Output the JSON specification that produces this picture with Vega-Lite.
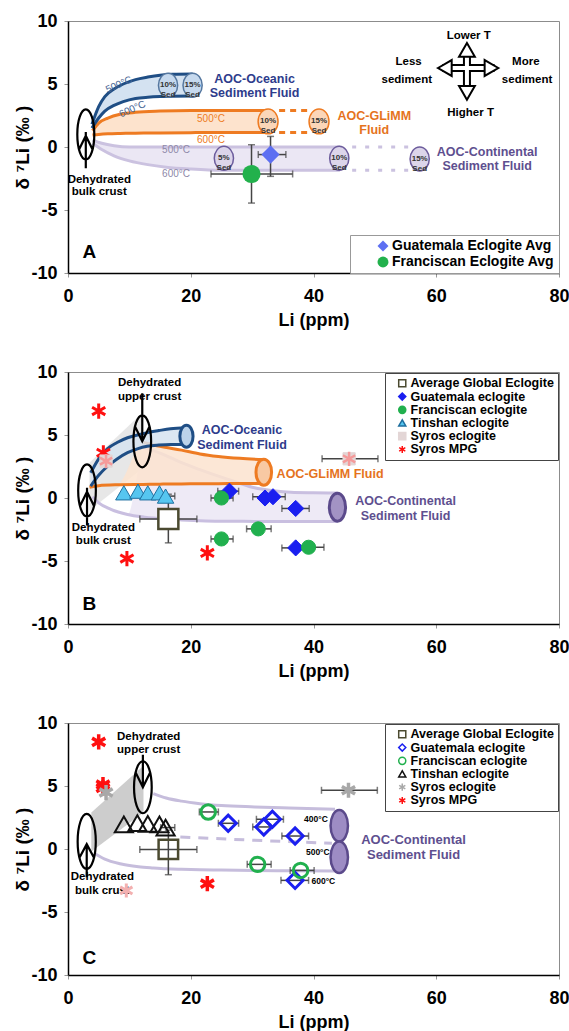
{
"$schema": "https://vega.github.io/schema/vega-lite/v6.json",
"padding": {"left": 13, "top": 11, "right": 0, "bottom": 0},
"background": "white",
"spacing": 32,
"config": {
  "font": "Liberation Sans",
  "view": {"stroke": "#8c8c8c", "strokeWidth": 1},
  "axis": {"grid": false, "labelFont": "Liberation Sans", "labelFontWeight": "bold", "labelFontSize": 18, "labelColor": "black", "titleFont": "Liberation Sans", "titleFontWeight": "bold", "titleFontSize": 18, "titleColor": "black", "domainColor": "black", "domainWidth": 1.5, "tickColor": "#999", "tickSize": 4, "labelPadding": 7},
  "axisX": {"labelPadding": 10, "titlePadding": 6, "labelFlush": false},
  "axisY": {"titlePadding": -2, "titleFontSize": 19},
  "legend": {"labelFont": "Liberation Sans", "labelFontWeight": "bold", "labelFontSize": 12.5, "labelColor": "black", "symbolSize": 50, "rowPadding": -0.7, "labelOffset": 2, "padding": 4, "symbolOffset": 7, "strokeColor": "#444", "fillColor": "white", "offset": 1, "symbolStrokeWidth": 1.5, "labelLimit": 300}
},
"resolve": {"scale": {"fill": "independent", "stroke": "independent", "shape": "independent", "size": "independent", "strokeWidth": "independent", "color": "independent"}, "legend": {"fill": "independent", "stroke": "independent", "shape": "independent", "color": "independent"}},
"datasets": {
  "A_blue": [{"Li":3.9,"lo":1.5,"hi":1.8},{"Li":5.0,"lo":2.3,"hi":3.2},{"Li":6.0,"lo":2.85,"hi":4.0},{"Li":7.5,"lo":3.3,"hi":4.6},{"Li":9.0,"lo":3.6,"hi":5.0},{"Li":11.0,"lo":3.85,"hi":5.35},{"Li":13.0,"lo":3.95,"hi":5.55},{"Li":15.0,"lo":4.0,"hi":5.7},{"Li":17.0,"lo":4.02,"hi":5.78},{"Li":20.3,"lo":4.05,"hi":5.8}],
  "A_orange": [{"Li":4.0,"lo":0.95,"hi":1.3},{"Li":5.0,"lo":1.0,"hi":1.9},{"Li":6.5,"lo":1.05,"hi":2.3},{"Li":8.5,"lo":1.08,"hi":2.6},{"Li":11.0,"lo":1.1,"hi":2.75},{"Li":15.0,"lo":1.12,"hi":2.85},{"Li":20.0,"lo":1.14,"hi":2.9},{"Li":25.0,"lo":1.15,"hi":2.9},{"Li":32.6,"lo":1.16,"hi":2.9}],
  "A_purple": [{"Li":4.0,"lo":0.3,"hi":0.55},{"Li":5.5,"lo":-0.2,"hi":0.3},{"Li":7.5,"lo":-0.7,"hi":0.1},{"Li":10.0,"lo":-1.1,"hi":0.0},{"Li":13.0,"lo":-1.4,"hi":0.0},{"Li":16.0,"lo":-1.6,"hi":0.0},{"Li":20.0,"lo":-1.75,"hi":0.0},{"Li":25.0,"lo":-1.85,"hi":0.0},{"Li":35.0,"lo":-1.85,"hi":0.0},{"Li":44.3,"lo":-1.85,"hi":0.0}],
  "A_dots": [{"g":"o","Li":34.4,"Li2":39.3,"d":2.9},{"g":"o","Li":34.4,"Li2":39.3,"d":1.16},{"g":"p","Li":46.3,"Li2":55.5,"d":0.0},{"g":"p","Li":46.3,"Li2":55.5,"d":-1.85}],
  "A_sed": [{"g":"b","Li":16.3,"d":4.9,"t":"10% Sed"},{"g":"b","Li":20.3,"d":4.9,"t":"15% Sed"},{"g":"o","Li":32.6,"d":2.03,"t":"10% Sed"},{"g":"o","Li":40.9,"d":2.03,"t":"15% Sed"},{"g":"p","Li":25.4,"d":-0.9,"t":"5% Sed"},{"g":"p","Li":44.2,"d":-0.9,"t":"10% Sed"},{"g":"p","Li":57.3,"d":-0.95,"t":"15% Sed"}],
  "A_crust": [{"Li":2.9,"d":1.0}],
  "A_temps": [{"g":"b","Li":8.3,"d":4.95,"t":"500°C"},{"g":"b","Li":10.5,"d":3.0,"t":"600°C"},{"g":"o","Li":23.3,"d":2.25,"t":"500°C"},{"g":"o","Li":23.3,"d":0.58,"t":"600°C"},{"g":"p","Li":17.6,"d":-0.26,"t":"500°C"},{"g":"p","Li":17.6,"d":-2.15,"t":"600°C"}],
  "A_labels": [{"g":"b","Li":30.4,"d":5.42,"t":"AOC-Oceanic"},{"g":"b","Li":30.4,"d":4.29,"t":"Sediment Fluid"},{"g":"o","Li":49.9,"d":2.43,"t":"AOC-GLiMM"},{"g":"o","Li":49.9,"d":1.32,"t":"Fluid"},{"g":"p","Li":68.3,"d":-0.43,"t":"AOC-Continental"},{"g":"p","Li":68.3,"d":-1.48,"t":"Sediment Fluid"}],
  "A_black": [{"Li":5.1,"d":-2.6,"t":"Dehydrated"},{"Li":5.1,"d":-3.6,"t":"bulk crust"},{"Li":65.3,"d":8.83,"t":"Lower T"},{"Li":65.6,"d":2.7,"t":"Higher T"},{"Li":55.5,"d":6.75,"t":"Less"},{"Li":55.2,"d":5.34,"t":"sediment"},{"Li":74.6,"d":6.72,"t":"More"},{"Li":74.8,"d":5.29,"t":"sediment"}],
  "A_panel": [{"Li":3.5,"d":-8.3,"t":"A"}],
  "A_shafts": [{"Li":61.0,"Li2":69.5,"d":6.27,"d2":6.27},{"Li":65.0,"Li2":65.0,"d":4.4,"d2":7.55}],
  "A_head_l": [{"Li":61.4,"d":6.27}],
  "A_head_r": [{"Li":69.0,"d":6.27}],
  "A_head_u": [{"Li":65.0,"d":7.71}],
  "A_head_d": [{"Li":65.0,"d":4.29}],
  "A_pts": [{"s":"Guatemala Eclogite Avg","Li":33.0,"d":-0.6,"xlo":31.0,"xhi":35.5,"ylo":-2.33,"yhi":0.84},{"s":"Franciscan Eclogite Avg","Li":29.9,"d":-2.14,"xlo":23.3,"xhi":36.6,"ylo":-4.45,"yhi":0.18}],

  "B_gray": [{"Li":3.5,"lo":-1.0,"hi":2.8},{"Li":12.0,"lo":2.3,"hi":6.7}],
  "B_blue": [{"Li":3.7,"lo":0.94,"hi":2.0},{"Li":5.0,"lo":1.8,"hi":3.1},{"Li":6.4,"lo":2.5,"hi":3.9},{"Li":8.0,"lo":3.1,"hi":4.4},{"Li":9.7,"lo":3.6,"hi":4.78},{"Li":11.3,"lo":3.9,"hi":5.0},{"Li":12.9,"lo":4.1,"hi":5.18},{"Li":14.8,"lo":4.2,"hi":5.35},{"Li":16.7,"lo":4.25,"hi":5.5},{"Li":19.2,"lo":4.25,"hi":5.58}],
  "B_orange": [{"Li":3.5,"lo":0.85,"hi":null},{"Li":5.0,"lo":0.98,"hi":null},{"Li":8.0,"lo":1.05,"hi":null},{"Li":12.3,"lo":1.08,"hi":4.4},{"Li":15.0,"lo":1.1,"hi":4.1},{"Li":18.5,"lo":1.12,"hi":3.8},{"Li":21.5,"lo":1.13,"hi":3.5},{"Li":24.5,"lo":1.14,"hi":3.3},{"Li":28.0,"lo":1.15,"hi":3.15},{"Li":31.8,"lo":1.15,"hi":3.05}],
  "B_purple": [{"Li":4.0,"lo":0.1,"hi":null},{"Li":5.0,"lo":-0.38,"hi":null},{"Li":7.0,"lo":-0.9,"hi":null},{"Li":9.7,"lo":-1.31,"hi":null},{"Li":12.5,"lo":-1.52,"hi":4.0},{"Li":15.6,"lo":-1.66,"hi":3.45},{"Li":18.5,"lo":-1.74,"hi":2.8},{"Li":21.5,"lo":-1.8,"hi":2.25},{"Li":24.5,"lo":-1.84,"hi":1.73},{"Li":27.5,"lo":-1.85,"hi":1.25},{"Li":30.4,"lo":-1.86,"hi":0.81},{"Li":33.5,"lo":-1.86,"hi":0.58},{"Li":36.3,"lo":-1.86,"hi":0.46},{"Li":40.0,"lo":-1.86,"hi":0.42},{"Li":43.9,"lo":-1.86,"hi":0.4}],
  "B_cap_b": [{"Li":19.3,"d":4.9}],
  "B_cap_o": [{"Li":31.9,"d":2.05}],
  "B_cap_p": [{"Li":43.9,"d":-0.73}],
  "B_bulk": [{"Li":3.1,"d":0.6}],
  "B_upper": [{"Li":12.1,"d":4.5}],
  "B_labels": [{"g":"b","Li":28.35,"d":5.39,"t":"AOC-Oceanic"},{"g":"b","Li":28.35,"d":4.2,"t":"Sediment Fluid"},{"g":"o","Li":42.7,"d":1.87,"t":"AOC-GLiMM Fluid"},{"g":"p","Li":55.0,"d":-0.25,"t":"AOC-Continental"},{"g":"p","Li":55.0,"d":-1.45,"t":"Sediment Fluid"}],
  "B_black": [{"Li":13.3,"d":9.1,"t":"Dehydrated"},{"Li":13.3,"d":8.04,"t":"upper crust"},{"Li":5.76,"d":-2.42,"t":"Dehydrated"},{"Li":5.76,"d":-3.43,"t":"bulk crust"}],
  "B_panel": [{"Li":3.5,"d":-8.4,"t":"B"}],
  "B_pts": [
    {"s":"Syros MPG","Li":5.0,"d":6.9},{"s":"Syros MPG","Li":5.76,"d":3.59},{"s":"Syros MPG","Li":9.6,"d":-4.81},{"s":"Syros MPG","Li":22.7,"d":-4.36},
    {"s":"Syros eclogite","Li":6.2,"d":2.93},{"s":"Syros eclogite","Li":45.8,"d":3.11,"xlo":41.4,"xhi":50.5},
    {"s":"Average Global Eclogite","Li":16.35,"d":-1.66,"xlo":11.7,"xhi":21.0,"ylo":-3.56,"yhi":0.3},
    {"s":"Tinshan eclogite","Li":9.1,"d":0.41},{"s":"Tinshan eclogite","Li":11.4,"d":0.54},{"s":"Tinshan eclogite","Li":13.0,"d":0.41},{"s":"Tinshan eclogite","Li":14.9,"d":0.41},{"s":"Tinshan eclogite","Li":15.9,"d":0.15,"xlo":15.1,"xhi":17.4},
    {"s":"Guatemala eclogite","Li":26.3,"d":0.54,"xlo":24.4,"xhi":27.8},{"s":"Guatemala eclogite","Li":32.1,"d":0.0},{"s":"Guatemala eclogite","Li":33.4,"d":0.1,"xlo":30.1,"xhi":35.4},{"s":"Guatemala eclogite","Li":37.1,"d":-0.83,"xlo":34.85,"xhi":39.3},{"s":"Guatemala eclogite","Li":37.1,"d":-3.96,"xlo":34.85,"xhi":38.5},
    {"s":"Franciscan eclogite","Li":25.0,"d":0.0,"xlo":23.3,"xhi":26.9},{"s":"Franciscan eclogite","Li":25.0,"d":-3.25,"xlo":23.3,"xhi":26.9},{"s":"Franciscan eclogite","Li":31.0,"d":-2.45,"xlo":29.1,"xhi":33.1},{"s":"Franciscan eclogite","Li":39.2,"d":-3.91,"xlo":37.2,"xhi":41.7}],

  "C_gray": [{"Li":3.8,"lo":-0.2,"hi":2.9},{"Li":12.3,"lo":2.9,"hi":6.6}],
  "C_purple": [{"Li":4.4,"lo":-0.37,"hi":null},{"Li":6.0,"lo":-0.8,"hi":null},{"Li":8.5,"lo":-1.17,"hi":null},{"Li":11.5,"lo":-1.4,"hi":null},{"Li":13.9,"lo":-1.5,"hi":4.4},{"Li":16.0,"lo":-1.57,"hi":4.05},{"Li":18.5,"lo":-1.61,"hi":3.8},{"Li":21.5,"lo":-1.64,"hi":3.6},{"Li":25.0,"lo":-1.67,"hi":3.45},{"Li":30.4,"lo":-1.7,"hi":3.34},{"Li":36.0,"lo":-1.73,"hi":3.25},{"Li":43.5,"lo":-1.75,"hi":3.15}],
  "C_mid": [{"Li":18.3,"d":0.95},{"Li":30.0,"d":0.7},{"Li":43.0,"d":0.45}],
  "C_caps": [{"Li":44.2,"d":1.85},{"Li":44.2,"d":-0.65}],
  "C_bulk": [{"Li":3.05,"d":0.6}],
  "C_upper": [{"Li":12.2,"d":4.9}],
  "C_temps": [{"Li":40.4,"d":2.36,"t":"400°C"},{"Li":40.7,"d":-0.2,"t":"500°C"},{"Li":41.6,"d":-2.54,"t":"600°C"}],
  "C_labels": [{"Li":56.3,"d":0.69,"t":"AOC-Continental"},{"Li":56.3,"d":-0.5,"t":"Sediment Fluid"}],
  "C_black": [{"Li":13.15,"d":8.9,"t":"Dehydrated"},{"Li":13.15,"d":7.85,"t":"upper crust"},{"Li":5.6,"d":-2.23,"t":"Dehydrated"},{"Li":5.6,"d":-3.34,"t":"bulk crust"}],
  "C_panel": [{"Li":3.5,"d":-8.66,"t":"C"}],
  "C_faded": [{"Li":9.5,"d":-3.29}],
  "C_pts": [
    {"s":"Syros MPG","Li":5.0,"d":8.5},{"s":"Syros MPG","Li":5.7,"d":5.11},{"s":"Syros MPG","Li":5.7,"d":4.85},{"s":"Syros MPG","Li":22.7,"d":-2.75},
    {"s":"Syros eclogite","Li":6.2,"d":4.48},{"s":"Syros eclogite","Li":45.7,"d":4.66,"xlo":41.3,"xhi":50.4},
    {"s":"Tinshan eclogite","Li":9.1,"d":1.95},{"s":"Tinshan eclogite","Li":11.3,"d":2.05},{"s":"Tinshan eclogite","Li":13.0,"d":2.0},{"s":"Tinshan eclogite","Li":14.9,"d":1.95},{"s":"Tinshan eclogite","Li":15.9,"d":1.7,"xlo":15.1,"xhi":17.4},
    {"s":"Average Global Eclogite","Li":16.35,"d":-0.03,"xlo":11.7,"xhi":21.0,"ylo":-2.04,"yhi":1.5},
    {"s":"Guatemala eclogite","Li":26.1,"d":2.04,"xlo":24.5,"xhi":27.8},{"s":"Guatemala eclogite","Li":31.9,"d":1.75,"xlo":30.1,"xhi":33.0},{"s":"Guatemala eclogite","Li":33.3,"d":2.36,"xlo":30.7,"xhi":35.1},{"s":"Guatemala eclogite","Li":37.0,"d":1.03,"xlo":34.85,"xhi":39.2},{"s":"Guatemala eclogite","Li":37.0,"d":-2.49,"xlo":34.7,"xhi":39.2},
    {"s":"Franciscan eclogite","Li":22.85,"d":2.94,"xlo":21.4,"xhi":24.5},{"s":"Franciscan eclogite","Li":30.9,"d":-1.22,"xlo":29.2,"xhi":33.1},{"s":"Franciscan eclogite","Li":37.9,"d":-1.7,"xlo":36.2,"xhi":40.1}]
},
"vconcat": [
{
 "width": 491, "height": 252,
 "encoding": {
  "x": {"field": "Li", "type": "quantitative", "scale": {"domain": [0, 80], "nice": false, "zero": false}, "axis": {"title": "Li (ppm)", "values": [0, 20, 40, 60, 80]}},
  "y": {"field": "d", "type": "quantitative", "scale": {"domain": [-10, 10], "nice": false, "zero": false}, "axis": {"title": "δ ⁷Li (‰ )", "values": [-10, -5, 0, 5, 10], "labelExpr": "datum.value < 0 ? '-' + abs(datum.value) : '' + datum.value"}}
 },
 "layer": [
  {"data": {"name": "A_purple"}, "mark": {"type": "area", "color": "#ebe7f4", "interpolate": "monotone"}, "encoding": {"y": {"field": "lo", "type": "quantitative"}, "y2": {"field": "hi"}}},
  {"data": {"name": "A_purple"}, "mark": {"type": "line", "color": "#cbc2e0", "strokeWidth": 3, "interpolate": "monotone"}, "encoding": {"y": {"field": "hi", "type": "quantitative"}}},
  {"data": {"name": "A_purple"}, "mark": {"type": "line", "color": "#cbc2e0", "strokeWidth": 3, "interpolate": "monotone"}, "encoding": {"y": {"field": "lo", "type": "quantitative"}}},
  {"data": {"name": "A_orange"}, "mark": {"type": "area", "color": "#fde3cd", "interpolate": "monotone"}, "encoding": {"y": {"field": "lo", "type": "quantitative"}, "y2": {"field": "hi"}}},
  {"data": {"name": "A_orange"}, "mark": {"type": "line", "color": "#ee7b22", "strokeWidth": 3, "interpolate": "monotone"}, "encoding": {"y": {"field": "hi", "type": "quantitative"}}},
  {"data": {"name": "A_orange"}, "mark": {"type": "line", "color": "#ee7b22", "strokeWidth": 3, "interpolate": "monotone"}, "encoding": {"y": {"field": "lo", "type": "quantitative"}}},
  {"data": {"name": "A_blue"}, "mark": {"type": "area", "color": "#d4e2f1", "interpolate": "monotone"}, "encoding": {"y": {"field": "lo", "type": "quantitative"}, "y2": {"field": "hi"}}},
  {"data": {"name": "A_blue"}, "mark": {"type": "line", "color": "#1f4e85", "strokeWidth": 3, "interpolate": "monotone"}, "encoding": {"y": {"field": "hi", "type": "quantitative"}}},
  {"data": {"name": "A_blue"}, "mark": {"type": "line", "color": "#1f4e85", "strokeWidth": 3, "interpolate": "monotone"}, "encoding": {"y": {"field": "lo", "type": "quantitative"}}},
  {"data": {"name": "A_dots"}, "transform": [{"filter": "datum.g == 'o'"}], "mark": {"type": "rule", "color": "#ee7b22", "strokeWidth": 3, "strokeDash": [6, 5]}, "encoding": {"x2": {"field": "Li2"}}},
  {"data": {"name": "A_dots"}, "transform": [{"filter": "datum.g == 'p'"}], "mark": {"type": "rule", "color": "#cbc2e0", "strokeWidth": 3, "strokeDash": [4, 9]}, "encoding": {"x2": {"field": "Li2"}}},
  {"data": {"name": "A_sed"}, "transform": [{"filter": "datum.g == 'b'"}], "mark": {"type": "point", "shape": "M0,-1A0.8,1 0 1,1 0,1A0.8,1 0 1,1 0,-1Z", "size": 576, "filled": true, "fill": "#c6d9ee", "stroke": "#55779f", "strokeWidth": 1.5, "opacity": 1}},
  {"data": {"name": "A_sed"}, "transform": [{"filter": "datum.g == 'o'"}], "mark": {"type": "point", "shape": "M0,-1A0.8,1 0 1,1 0,1A0.8,1 0 1,1 0,-1Z", "size": 620, "filled": true, "fill": "#fbd6b8", "stroke": "#ee7b22", "strokeWidth": 1.5, "opacity": 1}},
  {"data": {"name": "A_sed"}, "transform": [{"filter": "datum.g == 'p'"}], "mark": {"type": "point", "shape": "M0,-1A0.8,1 0 1,1 0,1A0.8,1 0 1,1 0,-1Z", "size": 576, "filled": true, "fill": "#dcd5ea", "stroke": "#6c5c9c", "strokeWidth": 1.5, "opacity": 1}},
  {"data": {"name": "A_sed"}, "mark": {"type": "text", "fontSize": 8, "fontWeight": "bold", "color": "#333", "lineBreak": " ", "lineHeight": 10}, "encoding": {"text": {"field": "t"}}},
  {"data": {"name": "A_crust"}, "mark": {"type": "point", "shape": "M0,-1A0.34,1 0 1,1 0,1A0.34,1 0 1,1 0,-1Z M0,-0.1L0,1.35 M-0.27,0.6L0,0.05L0.27,0.6", "size": 2500, "filled": false, "stroke": "black", "strokeWidth": 2.2, "opacity": 1}},
  {"data": {"name": "A_temps"}, "transform": [{"filter": "datum.g == 'b'"}], "mark": {"type": "text", "fontSize": 10, "color": "#4a6795", "angle": 336}, "encoding": {"text": {"field": "t"}}},
  {"data": {"name": "A_temps"}, "transform": [{"filter": "datum.g == 'o'"}], "mark": {"type": "text", "fontSize": 10, "color": "#ee7b22"}, "encoding": {"text": {"field": "t"}}},
  {"data": {"name": "A_temps"}, "transform": [{"filter": "datum.g == 'p'"}], "mark": {"type": "text", "fontSize": 10, "color": "#8e88a8"}, "encoding": {"text": {"field": "t"}}},
  {"data": {"name": "A_labels"}, "transform": [{"filter": "datum.g == 'b'"}], "mark": {"type": "text", "fontSize": 12.5, "fontWeight": "bold", "color": "#2e3c8c"}, "encoding": {"text": {"field": "t"}}},
  {"data": {"name": "A_labels"}, "transform": [{"filter": "datum.g == 'o'"}], "mark": {"type": "text", "fontSize": 12.5, "fontWeight": "bold", "color": "#e5731d"}, "encoding": {"text": {"field": "t"}}},
  {"data": {"name": "A_labels"}, "transform": [{"filter": "datum.g == 'p'"}], "mark": {"type": "text", "fontSize": 12.5, "fontWeight": "bold", "color": "#5e4f8f"}, "encoding": {"text": {"field": "t"}}},
  {"data": {"name": "A_black"}, "mark": {"type": "text", "fontSize": 11.5, "fontWeight": "bold", "color": "black"}, "encoding": {"text": {"field": "t"}}},
  {"data": {"name": "A_panel"}, "mark": {"type": "text", "fontSize": 19, "fontWeight": "bold", "color": "black"}, "encoding": {"text": {"field": "t"}}},
  {"data": {"name": "A_shafts"}, "mark": {"type": "rule", "color": "black", "strokeWidth": 8}, "encoding": {"x2": {"field": "Li2"}, "y2": {"field": "d2"}}},
  {"data": {"name": "A_shafts"}, "mark": {"type": "rule", "color": "white", "strokeWidth": 4}, "encoding": {"x2": {"field": "Li2"}, "y2": {"field": "d2"}}},
  {"data": {"name": "A_head_l"}, "mark": {"type": "point", "shape": "triangle-left", "size": 250, "filled": true, "fill": "white", "stroke": "black", "strokeWidth": 2, "opacity": 1}},
  {"data": {"name": "A_head_r"}, "mark": {"type": "point", "shape": "triangle-right", "size": 250, "filled": true, "fill": "white", "stroke": "black", "strokeWidth": 2, "opacity": 1}},
  {"data": {"name": "A_head_u"}, "mark": {"type": "point", "shape": "triangle-up", "size": 250, "filled": true, "fill": "white", "stroke": "black", "strokeWidth": 2, "opacity": 1}},
  {"data": {"name": "A_head_d"}, "mark": {"type": "point", "shape": "triangle-down", "size": 250, "filled": true, "fill": "white", "stroke": "black", "strokeWidth": 2, "opacity": 1}},
  {"data": {"name": "A_pts"}, "mark": {"type": "errorbar", "ticks": true, "size": 7, "thickness": 1.5, "color": "#444"}, "encoding": {"x": {"field": "xlo", "type": "quantitative"}, "x2": {"field": "xhi"}}},
  {"data": {"name": "A_pts"}, "mark": {"type": "errorbar", "ticks": true, "size": 7, "thickness": 1.5, "color": "#444"}, "encoding": {"y": {"field": "ylo", "type": "quantitative"}, "y2": {"field": "yhi"}}},
  {"data": {"name": "A_pts"}, "mark": {"type": "point", "filled": true, "opacity": 1, "size": 330, "strokeWidth": 0},
   "encoding": {
    "color": {"field": "s", "type": "nominal", "scale": {"domain": ["Guatemala Eclogite Avg", "Franciscan Eclogite Avg"], "range": ["#5d6ff2", "#22b14c"]}, "legend": {"title": null, "orient": "bottom-right", "labelFontSize": 14, "symbolSize": 120, "rowPadding": 2, "strokeColor": "#999", "padding": 4, "symbolOffset": 22, "offset": 0}},
    "shape": {"field": "s", "type": "nominal", "scale": {"domain": ["Guatemala Eclogite Avg", "Franciscan Eclogite Avg"], "range": ["diamond", "circle"]}, "legend": {"title": null, "orient": "bottom-right", "labelFontSize": 14, "symbolSize": 120, "rowPadding": 2, "strokeColor": "#999", "padding": 4, "symbolOffset": 22, "offset": 0}}
   }}
 ]
},
{
 "width": 491, "height": 252,
 "encoding": {
  "x": {"field": "Li", "type": "quantitative", "scale": {"domain": [0, 80], "nice": false, "zero": false}, "axis": {"title": "Li (ppm)", "values": [0, 20, 40, 60, 80]}},
  "y": {"field": "d", "type": "quantitative", "scale": {"domain": [-10, 10], "nice": false, "zero": false}, "axis": {"title": "δ ⁷Li (‰ )", "values": [-10, -5, 0, 5, 10], "labelExpr": "datum.value < 0 ? '-' + abs(datum.value) : '' + datum.value"}}
 },
 "layer": [
  {"data": {"name": "B_gray"}, "mark": {"type": "area", "color": "#cfcfcf", "opacity": 0.5}, "encoding": {"y": {"field": "lo", "type": "quantitative"}, "y2": {"field": "hi"}}},
  {"data": {"name": "B_purple"}, "mark": {"type": "area", "color": "#ebe6f4", "opacity": 0.85, "interpolate": "monotone"}, "encoding": {"y": {"field": "lo", "type": "quantitative"}, "y2": {"field": "hi"}}},
  {"data": {"name": "B_purple"}, "mark": {"type": "line", "color": "#c9bfe0", "strokeWidth": 3, "interpolate": "monotone"}, "encoding": {"y": {"field": "hi", "type": "quantitative"}}},
  {"data": {"name": "B_purple"}, "mark": {"type": "line", "color": "#c9bfe0", "strokeWidth": 3, "interpolate": "monotone"}, "encoding": {"y": {"field": "lo", "type": "quantitative"}}},
  {"data": {"name": "B_orange"}, "mark": {"type": "area", "color": "#fce3cf", "opacity": 0.85, "interpolate": "monotone"}, "encoding": {"y": {"field": "lo", "type": "quantitative"}, "y2": {"field": "hi"}}},
  {"data": {"name": "B_orange"}, "mark": {"type": "line", "color": "#ee7b22", "strokeWidth": 3, "interpolate": "monotone"}, "encoding": {"y": {"field": "hi", "type": "quantitative"}}},
  {"data": {"name": "B_orange"}, "mark": {"type": "line", "color": "#ee7b22", "strokeWidth": 3, "interpolate": "monotone"}, "encoding": {"y": {"field": "lo", "type": "quantitative"}}},
  {"data": {"name": "B_blue"}, "mark": {"type": "area", "color": "#d6e3f0", "opacity": 0.85, "interpolate": "monotone"}, "encoding": {"y": {"field": "lo", "type": "quantitative"}, "y2": {"field": "hi"}}},
  {"data": {"name": "B_blue"}, "mark": {"type": "line", "color": "#1f4e85", "strokeWidth": 3, "interpolate": "monotone"}, "encoding": {"y": {"field": "hi", "type": "quantitative"}}},
  {"data": {"name": "B_blue"}, "mark": {"type": "line", "color": "#1f4e85", "strokeWidth": 3, "interpolate": "monotone"}, "encoding": {"y": {"field": "lo", "type": "quantitative"}}},
  {"data": {"name": "B_cap_b"}, "mark": {"type": "point", "shape": "M0,-1A0.6,1 0 1,1 0,1A0.6,1 0 1,1 0,-1Z", "size": 484, "filled": true, "fill": "#bcd3ea", "stroke": "#1f4e85", "strokeWidth": 3, "opacity": 1}},
  {"data": {"name": "B_cap_o"}, "mark": {"type": "point", "shape": "M0,-1A0.6,1 0 1,1 0,1A0.6,1 0 1,1 0,-1Z", "size": 676, "filled": true, "fill": "#f8c9a3", "stroke": "#ee7b22", "strokeWidth": 3, "opacity": 1}},
  {"data": {"name": "B_cap_p"}, "mark": {"type": "point", "shape": "M0,-1A0.58,1 0 1,1 0,1A0.58,1 0 1,1 0,-1Z", "size": 784, "filled": true, "fill": "#a293c4", "stroke": "#5b4a8b", "strokeWidth": 3, "opacity": 1}},
  {"data": {"name": "B_bulk"}, "mark": {"type": "point", "shape": "M0,-1A0.34,1 0 1,1 0,1A0.34,1 0 1,1 0,-1Z M0,-0.1L0,1.35 M-0.27,0.6L0,0.05L0.27,0.6", "size": 2704, "filled": false, "stroke": "black", "strokeWidth": 2.2, "opacity": 1}},
  {"data": {"name": "B_upper"}, "mark": {"type": "point", "shape": "M0,-1A0.34,1 0 1,1 0,1A0.34,1 0 1,1 0,-1Z M0,-1.85L0,0 M-0.27,-0.55L0,0L0.27,-0.55", "size": 2704, "filled": false, "stroke": "black", "strokeWidth": 2.2, "opacity": 1}},
  {"data": {"name": "B_labels"}, "transform": [{"filter": "datum.g == 'b'"}], "mark": {"type": "text", "fontSize": 12.5, "fontWeight": "bold", "color": "#2e3c8c"}, "encoding": {"text": {"field": "t"}}},
  {"data": {"name": "B_labels"}, "transform": [{"filter": "datum.g == 'o'"}], "mark": {"type": "text", "fontSize": 12.5, "fontWeight": "bold", "color": "#e5731d"}, "encoding": {"text": {"field": "t"}}},
  {"data": {"name": "B_labels"}, "transform": [{"filter": "datum.g == 'p'"}], "mark": {"type": "text", "fontSize": 12.5, "fontWeight": "bold", "color": "#5e4f8f"}, "encoding": {"text": {"field": "t"}}},
  {"data": {"name": "B_black"}, "mark": {"type": "text", "fontSize": 11.5, "fontWeight": "bold", "color": "black"}, "encoding": {"text": {"field": "t"}}},
  {"data": {"name": "B_panel"}, "mark": {"type": "text", "fontSize": 19, "fontWeight": "bold", "color": "black"}, "encoding": {"text": {"field": "t"}}},
  {"data": {"name": "B_pts"}, "transform": [{"filter": "isValid(datum.xlo)"}], "mark": {"type": "errorbar", "ticks": true, "size": 7, "thickness": 1.5, "color": "#444"}, "encoding": {"x": {"field": "xlo", "type": "quantitative"}, "x2": {"field": "xhi"}}},
  {"data": {"name": "B_pts"}, "transform": [{"filter": "isValid(datum.ylo)"}], "mark": {"type": "errorbar", "ticks": true, "size": 7, "thickness": 1.5, "color": "#444"}, "encoding": {"y": {"field": "ylo", "type": "quantitative"}, "y2": {"field": "yhi"}}},
  {"data": {"name": "B_pts"}, "mark": {"type": "point", "opacity": 1},
   "encoding": {
    "fill": {"field": "s", "type": "nominal", "scale": {"domain": ["Average Global Eclogite", "Guatemala eclogite", "Franciscan eclogite", "Tinshan eclogite", "Syros eclogite", "Syros MPG"], "range": ["white", "#1a1ff0", "#21b04e", "#56c6f0", "#e3d6d6", "#ff1010"]}, "legend": {"title": null, "orient": "top-right"}},
    "stroke": {"field": "s", "type": "nominal", "scale": {"domain": ["Average Global Eclogite", "Guatemala eclogite", "Franciscan eclogite", "Tinshan eclogite", "Syros eclogite", "Syros MPG"], "range": ["#4b4a30", "#1a1ff0", "#21b04e", "#1f6f9f", "#e3d6d6", "#ff1010"]}, "legend": {"title": null, "orient": "top-right"}},
    "shape": {"field": "s", "type": "nominal", "scale": {"domain": ["Average Global Eclogite", "Guatemala eclogite", "Franciscan eclogite", "Tinshan eclogite", "Syros eclogite", "Syros MPG"], "range": ["square", "diamond", "circle", "triangle-up", "square", "M0,-1L0,1M-0.87,-0.5L0.87,0.5M-0.87,0.5L0.87,-0.5"]}, "legend": {"title": null, "orient": "top-right"}},
    "size": {"field": "s", "type": "nominal", "scale": {"type": "ordinal", "domain": ["Syros MPG", "Syros eclogite", "Tinshan eclogite", "Franciscan eclogite", "Guatemala eclogite", "Average Global Eclogite"], "range": [230, 150, 270, 200, 260, 400]}, "legend": null},
    "strokeWidth": {"field": "s", "type": "nominal", "scale": {"type": "ordinal", "domain": ["Syros MPG", "Syros eclogite", "Tinshan eclogite", "Franciscan eclogite", "Guatemala eclogite", "Average Global Eclogite"], "range": [3, 1, 1, 1, 1, 2.5]}, "legend": null}
   }},
  {"data": {"name": "B_pts"}, "transform": [{"filter": "datum.s == 'Syros eclogite'"}], "mark": {"type": "point", "shape": "M0,-1L0,1M-0.87,-0.5L0.87,0.5M-0.87,0.5L0.87,-0.5", "size": 200, "filled": false, "stroke": "#f59a9a", "strokeWidth": 2.5, "opacity": 1}}
 ]
},
{
 "width": 491, "height": 252,
 "encoding": {
  "x": {"field": "Li", "type": "quantitative", "scale": {"domain": [0, 80], "nice": false, "zero": false}, "axis": {"title": "Li (ppm)", "values": [0, 20, 40, 60, 80]}},
  "y": {"field": "d", "type": "quantitative", "scale": {"domain": [-10, 10], "nice": false, "zero": false}, "axis": {"title": "δ ⁷Li (‰ )", "values": [-10, -5, 0, 5, 10], "labelExpr": "datum.value < 0 ? '-' + abs(datum.value) : '' + datum.value"}}
 },
 "layer": [
  {"data": {"name": "C_gray"}, "mark": {"type": "area", "color": "#c4c4c4", "opacity": 0.85}, "encoding": {"y": {"field": "lo", "type": "quantitative"}, "y2": {"field": "hi"}}},
  {"data": {"name": "C_purple"}, "mark": {"type": "line", "color": "#c6bddc", "strokeWidth": 3, "interpolate": "monotone"}, "encoding": {"y": {"field": "hi", "type": "quantitative"}}},
  {"data": {"name": "C_purple"}, "mark": {"type": "line", "color": "#c6bddc", "strokeWidth": 3, "interpolate": "monotone"}, "encoding": {"y": {"field": "lo", "type": "quantitative"}}},
  {"data": {"name": "C_mid"}, "mark": {"type": "line", "color": "#c6bddc", "strokeWidth": 3, "strokeDash": [10, 8]}, "encoding": {}},
  {"data": {"name": "C_caps"}, "mark": {"type": "point", "shape": "M0,-1A0.55,1 0 1,1 0,1A0.55,1 0 1,1 0,-1Z", "size": 1000, "filled": true, "fill": "#9d8cc4", "stroke": "#5b4a8b", "strokeWidth": 2.5, "opacity": 1}},
  {"data": {"name": "C_bulk"}, "mark": {"type": "point", "shape": "M0,-1A0.33,1 0 1,1 0,1A0.33,1 0 1,1 0,-1Z M0,0.1L0,1.3 M-0.27,0.6L0,0.1L0.27,0.6", "size": 3025, "filled": false, "stroke": "black", "strokeWidth": 2.2, "opacity": 1}},
  {"data": {"name": "C_upper"}, "mark": {"type": "point", "shape": "M0,-1A0.34,1 0 1,1 0,1A0.34,1 0 1,1 0,-1Z M0,-1.25L0,0 M-0.27,-0.55L0,0L0.27,-0.55", "size": 2704, "filled": false, "stroke": "black", "strokeWidth": 2.2, "opacity": 1}},
  {"data": {"name": "C_temps"}, "mark": {"type": "text", "fontSize": 8.5, "fontWeight": "bold", "color": "black"}, "encoding": {"text": {"field": "t"}}},
  {"data": {"name": "C_labels"}, "mark": {"type": "text", "fontSize": 13, "fontWeight": "bold", "color": "#5e4f8f"}, "encoding": {"text": {"field": "t"}}},
  {"data": {"name": "C_black"}, "mark": {"type": "text", "fontSize": 11.5, "fontWeight": "bold", "color": "black"}, "encoding": {"text": {"field": "t"}}},
  {"data": {"name": "C_panel"}, "mark": {"type": "text", "fontSize": 19, "fontWeight": "bold", "color": "black"}, "encoding": {"text": {"field": "t"}}},
  {"data": {"name": "C_faded"}, "mark": {"type": "point", "shape": "M0,-1L0,1M-0.87,-0.5L0.87,0.5M-0.87,0.5L0.87,-0.5", "size": 200, "filled": false, "stroke": "#f3b0b0", "strokeWidth": 3, "opacity": 1}},
  {"data": {"name": "C_pts"}, "transform": [{"filter": "isValid(datum.xlo)"}], "mark": {"type": "errorbar", "ticks": true, "size": 7, "thickness": 1.5, "color": "#444"}, "encoding": {"x": {"field": "xlo", "type": "quantitative"}, "x2": {"field": "xhi"}}},
  {"data": {"name": "C_pts"}, "transform": [{"filter": "isValid(datum.ylo)"}], "mark": {"type": "errorbar", "ticks": true, "size": 7, "thickness": 1.5, "color": "#444"}, "encoding": {"y": {"field": "ylo", "type": "quantitative"}, "y2": {"field": "yhi"}}},
  {"data": {"name": "C_pts"}, "mark": {"type": "point", "opacity": 1},
   "encoding": {
    "fill": {"field": "s", "type": "nominal", "scale": {"domain": ["Average Global Eclogite", "Guatemala eclogite", "Franciscan eclogite", "Tinshan eclogite", "Syros eclogite", "Syros MPG"], "range": ["transparent", "transparent", "transparent", "transparent", "transparent", "transparent"]}, "legend": {"title": null, "orient": "top-right"}},
    "stroke": {"field": "s", "type": "nominal", "scale": {"domain": ["Average Global Eclogite", "Guatemala eclogite", "Franciscan eclogite", "Tinshan eclogite", "Syros eclogite", "Syros MPG"], "range": ["#4b4a30", "#1a1ff0", "#21b04e", "#111111", "#a8a8a8", "#ff1010"]}, "legend": {"title": null, "orient": "top-right"}},
    "shape": {"field": "s", "type": "nominal", "scale": {"domain": ["Average Global Eclogite", "Guatemala eclogite", "Franciscan eclogite", "Tinshan eclogite", "Syros eclogite", "Syros MPG"], "range": ["square", "diamond", "circle", "triangle-up", "M0,-1L0,1M-0.87,-0.5L0.87,0.5M-0.87,0.5L0.87,-0.5", "M0,-1L0,1M-0.87,-0.5L0.87,0.5M-0.87,0.5L0.87,-0.5"]}, "legend": {"title": null, "orient": "top-right"}},
    "size": {"field": "s", "type": "nominal", "scale": {"type": "ordinal", "domain": ["Syros MPG", "Syros eclogite", "Tinshan eclogite", "Franciscan eclogite", "Guatemala eclogite", "Average Global Eclogite"], "range": [230, 230, 330, 210, 260, 380]}, "legend": null},
    "strokeWidth": {"field": "s", "type": "nominal", "scale": {"type": "ordinal", "domain": ["Syros MPG", "Syros eclogite", "Tinshan eclogite", "Franciscan eclogite", "Guatemala eclogite", "Average Global Eclogite"], "range": [3.5, 3.5, 2, 3, 3, 2.5]}, "legend": null}
   }}
 ]
}
]
}
